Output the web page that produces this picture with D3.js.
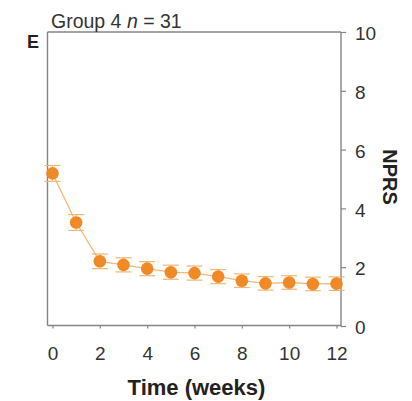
<!DOCTYPE html>
<html><head><meta charset="utf-8">
<script src="https://cdn.jsdelivr.net/npm/d3@7"></script>
<style>body{margin:0;background:#fff}svg{display:block}text{font-family:"Liberation Sans",Arial,sans-serif}</style>
</head><body>
<svg id="c" width="412" height="401"></svg>
<script>
const weeks = [0,1,2,3,4,5,6,7,8,9,10,11,12];
const nprs  = [5.19,3.52,2.2,2.08,1.95,1.83,1.8,1.68,1.54,1.45,1.48,1.43,1.44];
const errs  = [0.27,0.27,0.25,0.24,0.24,0.24,0.24,0.24,0.23,0.23,0.23,0.23,0.23];
const xTicks = [0,2,4,6,8,10,12];
const yTicks = [0,2,4,6,8,10];

const svg = d3.select("#c");
const x = d3.scaleLinear().domain([0,12]).range([52.5,336.5]);
const y = d3.scaleLinear().domain([0,10]).range([326,32]);
const L = 47.5, R = 341, T = 32, B = 325.5;
const axisCol = "#858585", txt = "#333";
const FF = "Liberation Sans, Arial, sans-serif";

// box: top and left lines
svg.append("line").attr("x1",L).attr("x2",R).attr("y1",T).attr("y2",T).attr("stroke",axisCol).attr("stroke-width",1.4);
svg.append("line").attr("x1",L).attr("x2",L).attr("y1",T).attr("y2",B).attr("stroke",axisCol).attr("stroke-width",1.4);

// bottom axis
const xa = svg.append("g").attr("transform",`translate(0,${B})`)
  .call(d3.axisBottom(x).tickValues(xTicks).tickSize(3).tickPadding(18).tickSizeOuter(0));
xa.select(".domain").attr("d",`M${L},0H${R}`).attr("stroke",axisCol).attr("stroke-width",1.4);
xa.selectAll(".tick line").attr("stroke",axisCol).attr("stroke-width",1.2);
xa.selectAll("text").attr("font-size",19).attr("fill",txt).attr("font-family",FF);

// right axis
const ya = svg.append("g").attr("transform",`translate(${R},0)`)
  .call(d3.axisRight(y).tickValues(yTicks).tickSize(5).tickPadding(9).tickSizeOuter(0));
ya.select(".domain").attr("d",`M0,${T}V${y(0)}`).attr("stroke",axisCol).attr("stroke-width",1.4);
ya.selectAll(".tick line").attr("stroke",axisCol).attr("stroke-width",1.2);
ya.selectAll("text").attr("font-size",19).attr("fill",txt).attr("font-family",FF).attr("dy","0.4em");

// line
const data = weeks.map((w,i)=>({w,v:nprs[i],e:errs[i]}));
svg.append("path").datum(data)
  .attr("d",d3.line().x(d=>x(d.w)).y(d=>y(d.v)))
  .attr("fill","none").attr("stroke","#f4b77a").attr("stroke-width",1.3);

// error bars
const eb = svg.append("g").attr("stroke","#f5b474").attr("stroke-width",1.2);
data.forEach(d=>{
  eb.append("line").attr("x1",x(d.w)).attr("x2",x(d.w)).attr("y1",y(d.v+d.e)).attr("y2",y(d.v-d.e));
  [d.v+d.e,d.v-d.e].forEach(v=>eb.append("line").attr("x1",x(d.w)-8).attr("x2",x(d.w)+8).attr("y1",y(v)).attr("y2",y(v)));
});

// markers
svg.append("g").selectAll("circle").data(data).join("circle")
  .attr("cx",d=>x(d.w)).attr("cy",d=>y(d.v)).attr("r",6.3)
  .attr("fill","#ef8a26");

// texts
const title = svg.append("text").attr("x",51).attr("y",28).attr("font-size",19.5).attr("fill",txt).attr("font-family",FF);
title.append("tspan").text("Group 4 ");
title.append("tspan").attr("font-style","italic").text("n");
title.append("tspan").text(" = 31");
svg.append("text").attr("x",27).attr("y",48).attr("font-size",18).attr("font-weight","bold").attr("fill","#222").text("E");
svg.append("text").attr("transform","translate(383,177) rotate(90)").attr("text-anchor","middle")
  .attr("font-size",20).attr("font-weight","bold").attr("fill","#222").text("NPRS");
svg.append("text").attr("x",196.5).attr("y",395).attr("text-anchor","middle")
  .attr("font-size",22).attr("font-weight","bold").attr("fill","#222").text("Time (weeks)");
</script>
</body></html>
